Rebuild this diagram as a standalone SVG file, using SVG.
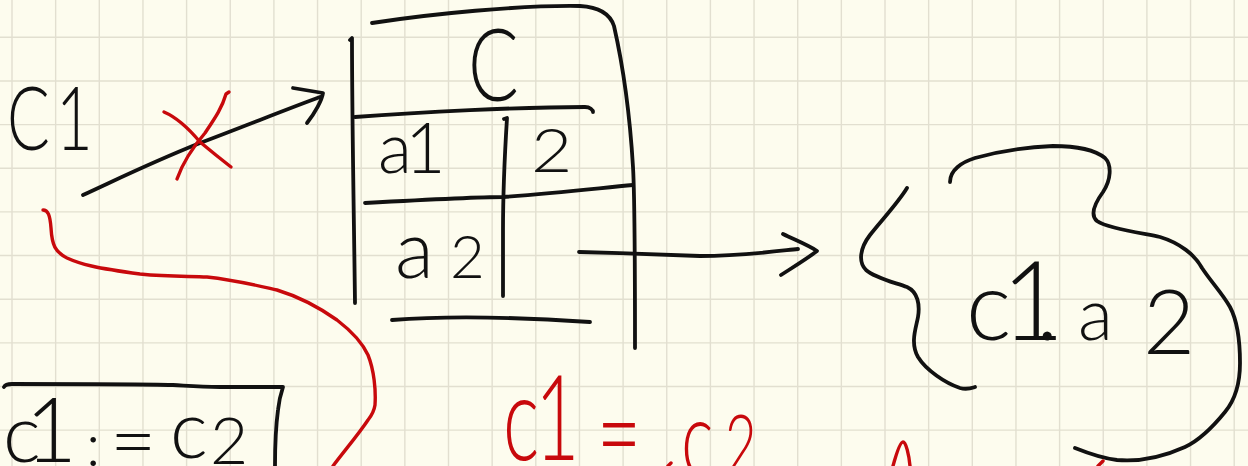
<svg xmlns="http://www.w3.org/2000/svg" width="1248" height="466" viewBox="0 0 1248 466">
<style>
.ink{stroke:#111;stroke-width:3.8;fill:none;stroke-linecap:round;stroke-linejoin:round}
.red{stroke:#c8090c;stroke-width:3.4;fill:none;stroke-linecap:round;stroke-linejoin:round}
.grid{stroke:#e2dfd0;stroke-width:1.4;fill:none}
.t{font-family:Lato,'Open Sans','DejaVu Sans',sans-serif;font-weight:300;fill:#111}
.rt{font-family:Lato,'Open Sans','DejaVu Sans',sans-serif;font-weight:300;fill:#c8090c}
</style>
<rect width="1248" height="466" fill="#fdfcee"/>
<path class="grid" d="M12,0V466M55.65,0V466M99.3,0V466M142.95,0V466M186.6,0V466M230.25,0V466M273.9,0V466M317.55,0V466M361.2,0V466M404.85,0V466M448.5,0V466M492.15,0V466M535.8,0V466M579.45,0V466M623.1,0V466M666.75,0V466M710.4,0V466M754.05,0V466M797.7,0V466M841.35,0V466M885,0V466M928.65,0V466M972.3,0V466M1015.95,0V466M1059.6,0V466M1103.25,0V466M1146.9,0V466M1190.55,0V466M1234.2,0V466M0,37.3H1248M0,80.95H1248M0,124.6H1248M0,168.25H1248M0,211.9H1248M0,255.55H1248M0,299.2H1248M0,342.85H1248M0,386.5H1248M0,430.15H1248"/>

<g id="c1-label">
<text class="t" font-size="88" transform="translate(7,150) scale(0.72,1)"><tspan x="0">C</tspan><tspan x="68">1</tspan></text>
</g>

<g id="table-node">
<path class="ink" d="M372,23 C430,14 520,5 580,6 C600,7 610,14 614,26 C624,70 630,117 633,167 C635,200 635,260 635,348"/>
<path class="ink" d="M350,40 L352,38 C352,120 354,220 355,303"/>
<path class="ink" d="M355,117 C420,112 520,107 585,107 C590,107 593,110 593,112"/>
<path class="ink" d="M504,119 L507,118 C505,150 503,197 503,230 C503,260 503,280 503,296"/>
<path class="ink" d="M365,203 C420,200 480,197 503,197 C560,193 600,188 633,185"/>
<path class="ink" d="M392,320 C430,317 500,316 590,322"/>
<text class="t" font-size="100" transform="translate(468,101) scale(0.75,1)">C</text>
<text class="t" font-size="70" y="173"><tspan x="378">a</tspan><tspan x="405">1</tspan></text>
<text class="t" font-size="62" transform="translate(531,172) scale(1.15,1)">2</text>
<text class="t" y="278"><tspan x="395" font-size="80">a</tspan><tspan x="450" font-size="60">2</tspan></text>
</g>

<g id="set-node">
<path class="ink" d="M907,188 C898,203 880,222 870,235 C860,248 858,262 866,270 C875,278 893,282 907,287 C918,292 920,305 918,317 C916,328 910,343 918,357 C926,370 945,383 960,388 C967,390 972,388 975,387"/>
<path class="ink" d="M950,182 C950,170 962,162 975,158 C1000,151 1030,147 1053,146 C1075,146 1095,150 1105,158 C1112,165 1111,180 1103,192 C1095,203 1090,215 1097,221 C1105,227 1130,231 1160,237 C1180,243 1195,255 1202,268 C1212,283 1222,293 1230,307 C1238,322 1240,345 1240,363 C1240,385 1235,400 1225,412 C1212,428 1200,440 1185,447 C1165,456 1140,462 1117,460 C1100,458 1085,452 1075,448"/>
<text class="t" y="340"><tspan x="966" font-size="96">c</tspan><tspan x="1001" font-size="110">1</tspan><tspan x="1036" font-size="96">.</tspan><tspan x="1078" font-size="72">a</tspan><tspan x="1143" y="354" font-size="90">2</tspan></text>
</g>

<g id="assign-box">
<path class="ink" d="M4,387 C5,385 7,384 12,384 C60,384 140,384 173,385 C190,386 200,387 220,387 L283,387 C281,393 279,400 278,410 C276,425 275,440 275,466"/>
<text class="t" font-size="80" y="462"><tspan x="3">c</tspan><tspan x="25" font-size="90">1</tspan> <tspan x="86" y="466" font-size="60">:</tspan><tspan x="110" y="470">=</tspan> <tspan x="170" y="458">c</tspan><tspan x="210" y="464" font-size="66">2</tspan></text>
</g>

<g id="red-note">
<text class="rt" font-size="118" transform="scale(0.65,1)" y="460"><tspan x="774">c</tspan><tspan x="823">1</tspan> <tspan x="918" y="475">=</tspan> <tspan x="1048" font-size="105">c</tspan><tspan x="1115" font-size="85">2</tspan></text>
<path class="red" d="M668,466 L671,463"/>
<path class="red" d="M893,466 C896,455 900,442 903,442 C906,442 909,455 910,466"/>
<path class="red" d="M1098,466 L1103,461"/>
</g>

<g id="connectors">
<path class="ink" d="M83,195 C120,178 150,163 200,143 C250,124 290,108 320,97"/>
<path class="ink" d="M293,88 L323,93 C322,100 315,113 307,123"/>
<path class="red" d="M164,112 C178,118 190,130 200,142 C212,152 222,160 231,167"/>
<path class="red" d="M177,179 C183,162 193,147 205,133 C215,118 222,108 226,94 L229,92"/>
<path class="ink" d="M579,252 C620,253 650,254 700,256 C740,256 770,252 798,249"/>
<path class="ink" d="M783,234 C795,240 808,245 817,251 C808,258 795,266 781,275"/>
<path class="red" d="M43,210 C48,210 50,215 51,228 C52,245 55,252 67,258 C80,264 95,268 140,274 C170,277 190,276 207,277 C235,280 255,285 277,290 C300,297 320,308 337,320 C350,330 362,342 368,355 C374,370 376,390 375,405 C374,412 372,415 368,420 C358,435 345,450 333,466"/>
</g>
</svg>
